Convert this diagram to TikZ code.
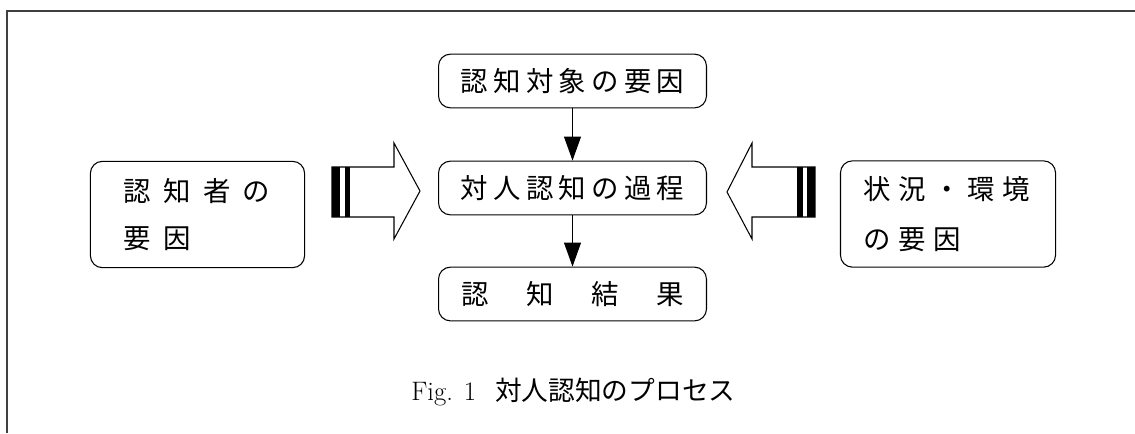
\documentclass[tikz,border=0pt]{standalone}
\usepackage{fontspec}
\newfontfamily\cjk{Noto Sans CJK JP}
\usetikzlibrary{arrows.meta}
\newcommand\ga{\kern3.0pt\relax}
\newcommand\gb{\kern21.4pt\relax}
\newcommand\gl{\kern7.1pt\relax}
\newcommand\gr{\kern4.25pt\relax}
\begin{document}
\begin{tikzpicture}[x=0.02cm,y=-0.02cm,
  box/.style={draw, line width=0.6pt, rounded corners=6.8pt, inner sep=0pt,
    font=\cjk\fontsize{15.6}{18}\selectfont},
  cbox/.style={box, minimum width=152.5pt, minimum height=30.6pt},
  sbox/.style={box, align=left, minimum height=60.5pt},
  conn/.style={line width=0.6pt, -{Triangle[width=9.6pt,length=13.6pt]}},
  blk/.style={draw, line width=0.6pt, fill=white, line join=miter},
  frame/.style={line width=0.7pt, draw=black!75}]
\useasboundingbox (0,0) rectangle (1135,433);
% partial frame
\draw[frame] (7,433) -- (7,11) -- (1135,11);
% central boxes
\node[cbox] (top) at (572.5,81) {認\ga 知\ga 対\ga 象\ga の\ga 要\ga 因};
\node[cbox] (mid) at (572.5,188) {対\ga 人\ga 認\ga 知\ga の\ga 過\ga 程};
\node[cbox] (bot) at (572.5,294) {認\gb 知\gb 結\gb 果};
% side boxes
\node[sbox, minimum width=121.9pt, text width=84.5pt,
  font=\cjk\fontsize{15.6}{26.6}\selectfont] (left) at (197.5,214.5)
  {認\gl 知\gl 者\gl の\\要\gl 因};
\node[sbox, minimum width=122.4pt, text width=96.4pt,
  font=\cjk\fontsize{15.6}{28.3}\selectfont] (right) at (948,214)
  {状\gr 況\gr ・\gr 環\gr 境\\の\gr 要\gr 因};
% connectors
\draw[conn] (top.south) -- (mid.north);
\draw[conn] (mid.south) -- (bot.north);
% left block arrow
\draw[blk] (332,167) -- (394,167) -- (394,143) -- (420,191) -- (394,239)
  -- (394,217) -- (332,217) -- cycle;
\fill (332,167) rectangle (340,217);
\fill (345,167) rectangle (350,217);
% right block arrow
\draw[blk] (815,167) -- (752,167) -- (752,143) -- (727,192) -- (752,239)
  -- (752,217) -- (815,217) -- cycle;
\fill (797,167) rectangle (803,217);
\fill (807,167) rectangle (815,217);
% caption
\node[anchor=west, inner sep=0pt, font=\fontsize{15.2}{18}\selectfont] (cap) at (411,392)
  {Fig.\kern6.2pt 1\kern10.8pt{\cjk\fontsize{15.2}{18}\selectfont 対人認知のプロセス}};
\end{tikzpicture}
\end{document}
